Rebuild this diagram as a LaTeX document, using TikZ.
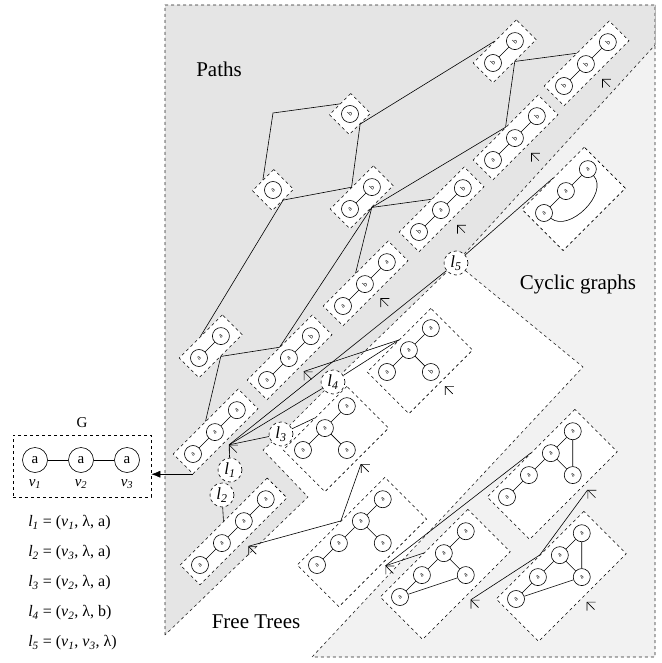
\documentclass[tikz,border=0pt]{standalone}
\usepackage{fontspec}
\setmainfont{Liberation Serif}
\usetikzlibrary{arrows.meta}

\begin{document}
\begin{tikzpicture}[x=1pt,y=-1pt,line width=0.6pt]
    \tikzstyle{gn}=[circle,draw,fill=white,inner sep=0pt,minimum size=17pt,font=\fontsize{7}{7}\selectfont]
    \tikzstyle{gbox}=[draw,dashed,fill=white,inner sep=0pt,minimum height=28pt]
    \tikzstyle{lnode}=[circle,draw,dashed,fill=white,inner sep=0pt,minimum size=24pt,font=\fontsize{17}{17}\selectfont]
    \tikzstyle{extarr}=[-{Straight Barb[length=6pt,width=12pt]}]
    \tikzstyle{reglab}=[font=\fontsize{21}{21}\selectfont]
    \tikzstyle{bignode}=[circle,draw,inner sep=0pt,minimum size=25pt,font=\fontsize{15}{15}\selectfont]
    \tikzstyle{eqn}=[anchor=west,inner sep=0pt,font=\fontsize{16}{16}\selectfont]

    \useasboundingbox (0,0) rectangle (661,663);

    % regions
    \fill[gray!10] (456,263) -- (655,45) -- (655,657) -- (312,657) -- (583,367) -- cycle;
    \draw[dashed,black!85] (456,263) -- (583,367) -- (312,657) -- (655,657) -- (655,5);
    \filldraw[dashed,draw=black!85,fill=gray!20] (165,635) -- (165,5) -- (655,5) -- (655,45) -- (456,263)
        -- (333,382) -- (281,434) -- (263,450) -- (308,497) -- cycle;
    \node[reglab] (lpaths) at (219,69) {Paths};
    \node[reglab] (lcyc) at (578,284) {Cyclic graphs};
    \node[reglab] (ltrees) at (256,622) {Free Trees};

    % paths
    \begin{scope}[shift={(350,114)},rotate=45,transform shape]
        \node[gbox,minimum width=30pt] (b1) at (0,0) {};
        \node[gn] (b1a) at (0,0) {b};
    \end{scope}
    \begin{scope}[shift={(273,190)},rotate=45,transform shape]
        \node[gbox,minimum width=30pt] (b2) at (0,0) {};
        \node[gn] (b2a) at (0,0) {a};
    \end{scope}
    \begin{scope}[shift={(350,209)},rotate=45,transform shape]
        \node[gbox,minimum width=61pt] (b3) at (16.5,0) {};
        \node[gn] (b3a) at (0,0) {a};
        \node[gn] (b3b) at (31,0) {b};
        \draw (b3a) -- (b3b);
    \end{scope}
    \begin{scope}[shift={(493,63)},rotate=45,transform shape]
        \node[gbox,minimum width=61pt] (b4) at (16.5,0) {};
        \node[gn] (b4a) at (0,0) {b};
        \node[gn] (b4b) at (31,0) {b};
        \draw (b4a) -- (b4b);
    \end{scope}
    \begin{scope}[shift={(564,86)},rotate=45,transform shape]
        \node[gbox,minimum width=92pt] (b5) at (32,0) {};
        \node[gn] (b5a) at (0,0) {b};
        \node[gn] (b5b) at (31,0) {b};
        \node[gn] (b5c) at (62,0) {b};
        \draw (b5a) -- (b5b) (b5b) -- (b5c);
        \coordinate (m5) at (32,22);
        \draw[extarr] (32,33) -- (m5);
    \end{scope}
    \begin{scope}[shift={(493,160)},rotate=45,transform shape]
        \node[gbox,minimum width=92pt] (b6) at (32,0) {};
        \node[gn] (b6a) at (0,0) {a};
        \node[gn] (b6b) at (31,0) {b};
        \node[gn] (b6c) at (62,0) {b};
        \draw (b6a) -- (b6b) (b6b) -- (b6c);
        \coordinate (m6) at (32,22);
        \draw[extarr] (32,33) -- (m6);
    \end{scope}
    \begin{scope}[shift={(419,232)},rotate=45,transform shape]
        \node[gbox,minimum width=92pt] (b7) at (32,0) {};
        \node[gn] (b7a) at (0,0) {b};
        \node[gn] (b7b) at (31,0) {a};
        \node[gn] (b7c) at (62,0) {b};
        \draw (b7a) -- (b7b) (b7b) -- (b7c);
        \coordinate (m7) at (32,22);
        \draw[extarr] (32,33) -- (m7);
    \end{scope}
    \begin{scope}[shift={(343,306)},rotate=45,transform shape]
        \node[gbox,minimum width=92pt] (b8) at (32,0) {};
        \node[gn] (b8a) at (0,0) {a};
        \node[gn] (b8b) at (31,0) {b};
        \node[gn] (b8c) at (62,0) {a};
        \draw (b8a) -- (b8b) (b8b) -- (b8c);
        \coordinate (m8) at (32,21);
        \draw[extarr] (32,32) -- (m8);
    \end{scope}
    \begin{scope}[shift={(199,358)},rotate=45,transform shape]
        \node[gbox,minimum width=61pt] (b9) at (16.5,0) {};
        \node[gn] (b9a) at (0,0) {a};
        \node[gn] (b9b) at (31,0) {a};
        \draw (b9a) -- (b9b);
    \end{scope}
    \begin{scope}[shift={(267,380)},rotate=45,transform shape]
        \node[gbox,minimum width=92pt] (b10) at (32,0) {};
        \node[gn] (b10a) at (0,0) {a};
        \node[gn] (b10b) at (31,0) {a};
        \node[gn] (b10c) at (62,0) {b};
        \draw (b10a) -- (b10b) (b10b) -- (b10c);
        \coordinate (m10) at (32,20);
        \draw[extarr] (32,31) -- (m10);
    \end{scope}
    \begin{scope}[shift={(193,454)},rotate=45,transform shape]
        \node[gbox,minimum width=92pt] (b11) at (32,0) {};
        \node[gn] (b11a) at (0,0) {a};
        \node[gn] (b11b) at (31,0) {a};
        \node[gn] (b11c) at (62,0) {a};
        \draw (b11a) -- (b11b) (b11b) -- (b11c);
        \coordinate (m11) at (32,19);
        \draw[extarr] (32,30) -- (m11);
    \end{scope}
    \begin{scope}[shift={(200,565)},rotate=45,transform shape]
        \node[gbox,minimum width=123pt] (b12) at (47.5,0) {};
        \node[gn] (b12a) at (0,0) {a};
        \node[gn] (b12b) at (31,0) {a};
        \node[gn] (b12c) at (62,0) {a};
        \node[gn] (b12d) at (93,0) {a};
        \draw (b12a) -- (b12b) (b12b) -- (b12c) (b12c) -- (b12d);
        \coordinate (m12) at (47.5,21);
        \draw[extarr] (47.5,32) -- (m12);
    \end{scope}

    % free trees
    \begin{scope}[shift={(387,372)},rotate=45,transform shape]
        \node[gbox,minimum width=90pt,minimum height=59pt] (b13) at (31,15.5) {};
        \node[gn] (b13a) at (0,0) {a};
        \node[gn] (b13b) at (31,0) {a};
        \node[gn] (b13c) at (62,0) {a};
        \node[gn] (b13d) at (31,31) {b};
        \draw (b13a) -- (b13b) (b13b) -- (b13c) (b13b) -- (b13d);
        \coordinate (m13) at (31,51);
        \draw[extarr] (31,62) -- (m13);
    \end{scope}
    \begin{scope}[shift={(303,450)},rotate=45,transform shape]
        \node[gbox,minimum width=90pt,minimum height=59pt] (b14) at (31,15.5) {};
        \node[gn] (b14a) at (0,0) {a};
        \node[gn] (b14b) at (31,0) {a};
        \node[gn] (b14c) at (62,0) {a};
        \node[gn] (b14d) at (31,31) {a};
        \draw (b14a) -- (b14b) (b14b) -- (b14c) (b14b) -- (b14d);
        \coordinate (m14) at (31,51);
        \draw[extarr] (31,62) -- (m14);
    \end{scope}
    \begin{scope}[shift={(317,565)},rotate=45,transform shape]
        \node[gbox,minimum width=124pt,minimum height=59pt] (b15) at (48,15.5) {};
        \node[gn] (b15a) at (0,0) {a};
        \node[gn] (b15b) at (31,0) {a};
        \node[gn] (b15c) at (62,0) {a};
        \node[gn] (b15d) at (93,0) {a};
        \node[gn] (b15e) at (62,31) {a};
        \draw (b15a) -- (b15b) (b15b) -- (b15c) (b15c) -- (b15d) (b15c) -- (b15e);
        \coordinate (m15) at (48,49);
        \draw[extarr] (48,60) -- (m15);
    \end{scope}

    % cyclic graphs
    \begin{scope}[shift={(544,213)},rotate=45,transform shape]
        \node[gbox,minimum width=88pt,minimum height=58pt] (b16) at (31,11) {};
        \node[gn] (b16a) at (0,0) {a};
        \node[gn] (b16b) at (31,0) {a};
        \node[gn] (b16c) at (62,0) {a};
        \draw (b16a) -- (b16b) (b16b) -- (b16c);
        \draw (b16a) .. controls (4,32) and (60,32) .. (b16c);
    \end{scope}
    \begin{scope}[shift={(507,497)},rotate=45,transform shape]
        \node[gbox,minimum width=124pt,minimum height=60pt] (b17) at (48,16) {};
        \node[gn] (b17a) at (0,0) {a};
        \node[gn] (b17b) at (31,0) {a};
        \node[gn] (b17c) at (62,0) {a};
        \node[gn] (b17d) at (93,0) {a};
        \node[gn] (b17e) at (62,31) {a};
        \draw (b17a) -- (b17b) (b17b) -- (b17c) (b17c) -- (b17d) (b17c) -- (b17e) (b17d) -- (b17e);
        \coordinate (m17) at (62,52);
        \draw[extarr] (62,63) -- (m17);
    \end{scope}
    \begin{scope}[shift={(400,597)},rotate=45,transform shape]
        \node[gbox,minimum width=124pt,minimum height=60pt] (b18) at (48,16) {};
        \node[gn] (b18a) at (0,0) {a};
        \node[gn] (b18b) at (31,0) {a};
        \node[gn] (b18c) at (62,0) {a};
        \node[gn] (b18d) at (93,0) {a};
        \node[gn] (b18e) at (62,31) {a};
        \draw (b18a) -- (b18b) (b18b) -- (b18c) (b18c) -- (b18d) (b18c) -- (b18e) (b18a) -- (b18e);
        \coordinate (m18) at (48,52);
        \draw[extarr] (48,63) -- (m18);
    \end{scope}
    \begin{scope}[shift={(516,599)},rotate=45,transform shape]
        \node[gbox,minimum width=124pt,minimum height=60pt] (b19) at (48,16) {};
        \node[gn] (b19a) at (0,0) {a};
        \node[gn] (b19b) at (31,0) {a};
        \node[gn] (b19c) at (62,0) {a};
        \node[gn] (b19d) at (93,0) {a};
        \node[gn] (b19e) at (62,31) {a};
        \draw (b19a) -- (b19b) (b19b) -- (b19c) (b19c) -- (b19d) (b19c) -- (b19e) (b19d) -- (b19e) (b19a) -- (b19e);
        \coordinate (m19) at (48,52);
        \draw[extarr] (48,63) -- (m19);
    \end{scope}

    % lattice edges
    \coordinate (bend) at (273,113);
    \draw (b2.north) -- (bend) -- (b1.north);
    \path
    (b1.south) edge (b4.north)
    (b1.south) edge (b3.north)
    (b2.south) edge (b3.north)
    (b2.south) edge (b9.north)
    (b3.south) edge (b6.north)
    (b3.south) edge (b7.north)
    (b3.south) edge (b8.north)
    (b3.south) edge (b10.north)
    (b4.south) edge (b5.north)
    (b4.south) edge (b6.north)
    (b9.south) edge (b10.north)
    (b9.south) edge (b11.north);

    % extensions
    \node[lnode] (l1) at (230,470) {\itshape l\textsubscript{1}};
    \node[lnode] (l2) at (222,495) {\itshape l\textsubscript{2}};
    \node[lnode] (l3) at (281,434) {\itshape l\textsubscript{3}};
    \node[lnode] (l4) at (333,382) {\itshape l\textsubscript{4}};
    \node[lnode] (l5) at (456,263) {\itshape l\textsubscript{5}};
    \path
    (l1) edge (m11)
    (l2) edge (b12.north)
    (l3) edge (m11)
    (l3) edge (b14.north)
    (l4) edge (m11)
    (l4) edge (b13.north)
    (l5) edge (m11)
    (l5) edge (b16.north)
    (b13.north) edge (m10)
    (b15.north) edge (m14)
    (b15.north) edge (m12)
    (b17.north) edge (m15)
    (b18.north) edge (m15)
    (b19.north) edge (m18)
    (b19.north) edge (m17);

    % the graph G
    \node[draw,dashed,minimum width=138pt,minimum height=62pt] (gfrm) at (82,466) {};
    \node[font=\fontsize{15}{15}\selectfont] (glab) at (82,423) {G};
    \node[bignode] (v1) at (35,460) {a};
    \node[bignode] (v2) at (81,460) {a};
    \node[bignode] (v3) at (127,460) {a};
    \draw (v1) -- (v2);
    \draw (v2) -- (v3);
    \node[font=\fontsize{15}{15}\selectfont\itshape] (v1lab) at (35,484) {v\textsubscript{1}};
    \node[font=\fontsize{15}{15}\selectfont\itshape] (v2lab) at (81,484) {v\textsubscript{2}};
    \node[font=\fontsize{15}{15}\selectfont\itshape] (v3lab) at (127,484) {v\textsubscript{3}};
    \draw[-{Latex[length=9pt,width=7pt]}] (b11.south west) -- (b11.south west -| gfrm.east);

    \node[eqn] (eq1) at (28,523) {{\itshape l\textsubscript{1}} = ({\itshape v\textsubscript{1}},~λ,~a)};
    \node[eqn] (eq2) at (28,553) {{\itshape l\textsubscript{2}} = ({\itshape v\textsubscript{3}},~λ,~a)};
    \node[eqn] (eq3) at (28,583) {{\itshape l\textsubscript{3}} = ({\itshape v\textsubscript{2}},~λ,~a)};
    \node[eqn] (eq4) at (28,613) {{\itshape l\textsubscript{4}} = ({\itshape v\textsubscript{2}},~λ,~b)};
    \node[eqn] (eq5) at (28,643) {{\itshape l\textsubscript{5}} = ({\itshape v\textsubscript{1}},~{\itshape v\textsubscript{3}},~λ)};
\end{tikzpicture}
\end{document}
